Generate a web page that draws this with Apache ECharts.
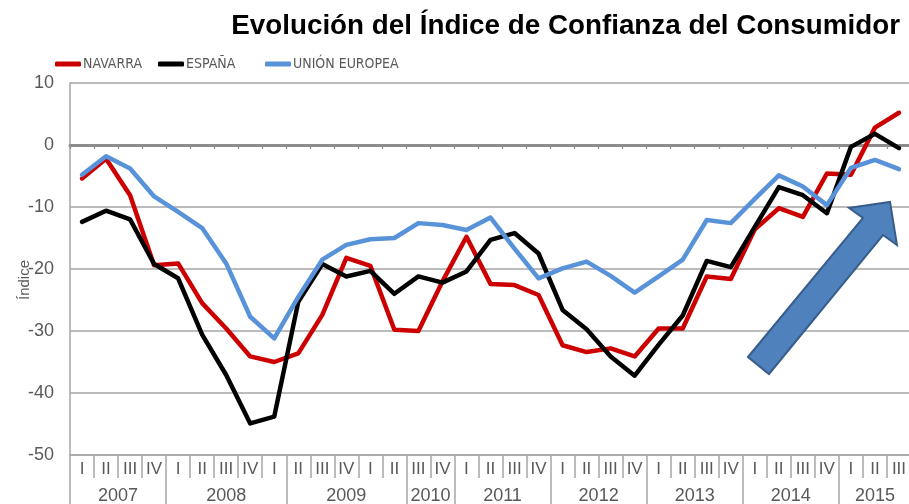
<!DOCTYPE html>
<html><head><meta charset="utf-8">
<script src="https://cdn.jsdelivr.net/npm/echarts@6/dist/echarts.min.js"></script>
<style>html,body{margin:0;padding:0;background:#fff}#c{width:909px;height:504px}</style>
</head><body><div id="c"></div>
<script>
// ---- data ----
const quarterLabels = ['I','II','III','IV','I','II','III','IV','I','II','III','IV','I','II','III','IV',
  'I','II','III','IV','I','II','III','IV','I','II','III','IV','I','II','III','IV','I','II','III'];
const yearLabels = ['2007','2008','2009','2010','2011','2012','2013','2014','2015'];
const yearSpans = [4,5,5,2,4,4,4,4,3];
const seriesNames = ['NAVARRA','ESPAÑA','UNIÓN EUROPEA'];
const navarra = [-5.4,-2.2,-8.1,-19.4,-19.1,-25.5,-29.6,-34.1,-35.0,-33.6,-27.4,-18.2,-19.5,-29.8,-30.0,-22.0,
  -14.8,-22.4,-22.6,-24.2,-32.3,-33.4,-32.8,-34.1,-29.6,-29.6,-21.2,-21.6,-13.6,-10.2,-11.6,-4.6,-4.8,2.8,5.2];
const espana = [-12.4,-10.6,-12.0,-19.2,-21.5,-30.6,-37.1,-44.9,-43.8,-25.3,-19.2,-21.2,-20.3,-24.0,-21.2,-22.2,
  -20.4,-15.3,-14.2,-17.5,-26.6,-29.7,-34.1,-37.2,-32.2,-27.5,-18.7,-19.7,-13.2,-6.8,-8.1,-11.0,-0.3,1.8,-0.5];
const unionEuropea = [-4.8,-1.8,-3.8,-8.3,-10.8,-13.4,-19.1,-27.7,-31.2,-24.5,-18.5,-16.1,-15.2,-15.0,-12.6,-12.9,
  -13.7,-11.7,-16.7,-21.5,-19.9,-18.8,-21.1,-23.8,-21.2,-18.5,-12.1,-12.6,-8.7,-4.9,-6.7,-9.7,-3.7,-2.4,-3.9];
const yMin = -50, yMax = 10, yStep = 10;

// ---- derived year-group positions ----
const yearBounds = [0], yearCenters = [];
let acc = 0;
yearSpans.forEach(s => { yearCenters.push(acc + s / 2); acc += s; yearBounds.push(acc); });

const GRAY = '#595959', LINE = '#A6A6A6';
const narrow = "'Liberation Sans Narrow','Arial Narrow','DejaVu Sans Condensed',sans-serif";
const sans = "'Liberation Sans',Arial,sans-serif";
const colors = ['#CC0000', '#000000', '#5892D8'];
const legendLefts = [50, 153, 260];

const chart = echarts.init(document.getElementById('c'), null, {renderer: 'canvas'});
chart.setOption({
  animation: false,
  backgroundColor: '#fff',
  title: {
    text: 'Evolución del Índice de Confianza del Consumidor',
    right: 4, top: 7,
    textStyle: {fontFamily: sans, fontSize: 27.8, fontWeight: 'bold', color: '#000'}
  },
  legend: seriesNames.map((n, i) => ({
    left: legendLefts[i], top: 52, itemWidth: 26, itemHeight: 5, icon: 'roundRect',
    data: [n], selectedMode: false,
    textStyle: {fontFamily: narrow, fontSize: 14, color: GRAY, padding: [0, 0, 0, -3]}
  })),
  grid: {left: 70, right: -2, top: 83, bottom: 49, containLabel: false, outerBoundsMode: 'none'},
  xAxis: [
    {
      type: 'category', data: quarterLabels, position: 'bottom', boundaryGap: true,
      axisLine: {show: true, onZero: false, lineStyle: {color: LINE, width: 1.5}},
      axisTick: {show: true, interval: 0, length: 23, lineStyle: {color: LINE, width: 1.5}},
      axisLabel: {interval: 0, margin: 6, fontFamily: sans, fontSize: 17, color: GRAY},
      splitLine: {show: false}
    },
    {
      type: 'value', min: 0, max: quarterLabels.length, position: 'bottom',
      axisLine: {show: false, onZero: false},
      axisTick: {show: true, customValues: yearBounds, length: 49, lineStyle: {color: LINE, width: 1.5}},
      axisLabel: {customValues: yearCenters, margin: 32, fontFamily: sans, fontSize: 18, color: GRAY,
        formatter: v => yearLabels[yearCenters.indexOf(v)] || ''},
      splitLine: {show: false}
    },
    {
      type: 'category', data: quarterLabels, position: 'bottom', boundaryGap: true,
      axisLine: {show: true, onZero: true, lineStyle: {color: '#8C8C8C', width: 3}},
      axisTick: {show: true, interval: 0, length: 4, lineStyle: {color: '#8C8C8C', width: 1.2}},
      axisLabel: {show: false},
      splitLine: {show: false}
    }
  ],
  yAxis: {
    type: 'value', min: yMin, max: yMax, interval: yStep,
    name: 'Índice', nameLocation: 'middle', nameGap: 38, nameRotate: 90, nameMoveOverlap: false,
    nameTextStyle: {fontFamily: sans, fontSize: 15, color: GRAY, padding: [0, 22, 0, 0]},
    axisLine: {show: true, lineStyle: {color: LINE, width: 1.5}},
    axisTick: {show: false},
    axisLabel: {margin: 16, fontFamily: sans, fontSize: 18, color: GRAY},
    splitLine: {show: true, lineStyle: {color: LINE, width: 1.5}}
  },
  series: [navarra, espana, unionEuropea].map((d, i) => ({
    name: seriesNames[i], type: 'line', data: d, color: colors[i],
    xAxisIndex: 0, showSymbol: false, symbol: 'none', smooth: false,
    lineStyle: {width: 4.5, color: colors[i], join: 'round', cap: 'round'},
    emphasis: {disabled: true}
  })),
  graphic: [{
    type: 'polygon', z: 100,
    shape: {points: [[748,357],[863,218],[849,208],[890,202],[897,245],[883,235],[769,374]]},
    style: {fill: '#4F81BD', stroke: '#385D8A', lineWidth: 2}
  }]
});
</script></body></html>
